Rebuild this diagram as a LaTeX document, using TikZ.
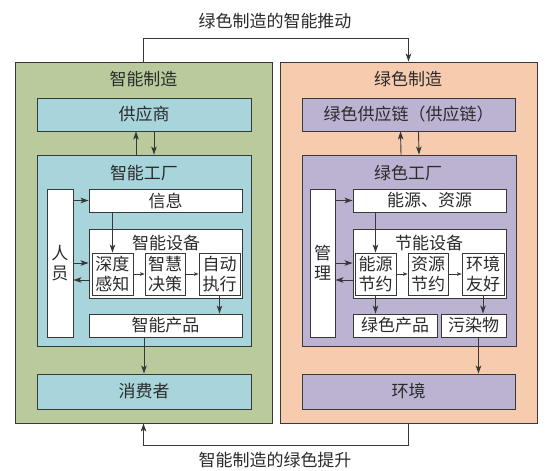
\documentclass[tikz,border=0pt]{standalone}
\usepackage{fontspec}
\setmainfont{Noto Sans CJK SC}
\usetikzlibrary{arrows.meta,calc}
\definecolor{gr}{HTML}{B9CA9C}
\definecolor{sa}{HTML}{F6CBAE}
\definecolor{lb}{HTML}{A8D4DC}
\definecolor{lv}{HTML}{BCB3D3}
\definecolor{bd}{HTML}{383838}
\definecolor{tx}{HTML}{2B2B2B}
\begin{document}
\begin{tikzpicture}[x=1pt,y=-1pt,
 bx/.style={draw=bd,line width=0.9pt,inner sep=0pt,text=tx,font=\fontsize{17}{20}\selectfont,align=center},
 wh/.style 2 args={minimum width=#1,minimum height=#2},
 lbl/.style={text=tx,font=\fontsize{17}{20}\selectfont,inner sep=0pt},
 arr/.style={draw=bd,line width=0.9pt,-{Stealth[length=8pt,width=5.5pt,inset=2pt]}},
 sarr/.style={draw=bd,line width=0.7pt,-{Stealth[length=4.5pt,width=3.5pt,inset=1pt]}}]
\useasboundingbox (0,0) rectangle (550,471);
\fill[white] (0,0) rectangle (550,471);
% ---------- left: smart manufacturing
\node[bx,fill=gr,wh={257pt}{361pt}] (outL) at (143.5,242.5) {};
\node[lbl] (tL) at (143.5,79) {智能制造};
\node[bx,fill=lb,wh={214pt}{33pt}] (supL) at (144,114.5) {供应商};
\node[bx,fill=lb,wh={214pt}{191pt}] (facL) at (144,250.5) {};
\node[lbl] (tfL) at (144,173) {智能工厂};
\node[bx,fill=white,wh={26pt}{148pt}] (ry) at (60,263) {人\\员};
\node[bx,fill=white,wh={153pt}{23pt}] (xx) at (165.5,200.5) {信息};
\node[bx,fill=white,wh={153pt}{69pt}] (sb) at (165.5,263.5) {};
\node[lbl] (tsb) at (166,243) {智能设备};
\node[bx,fill=white,wh={41pt}{42pt}] (sd) at (112.5,274) {深度\\感知};
\node[bx,fill=white,wh={40pt}{42pt}] (zh) at (165,274) {智慧\\决策};
\node[bx,fill=white,wh={41pt}{42pt}] (zd) at (219.5,274) {自动\\执行};
\node[bx,fill=white,wh={153pt}{23pt}] (cp) at (165.5,325.5) {智能产品};
\node[bx,fill=lb,wh={214pt}{35pt}] (xf) at (144,391.5) {消费者};
% ---------- right: green manufacturing
\node[bx,fill=sa,wh={257pt}{361pt}] (outR) at (408.5,242.5) {};
\node[lbl] (tR) at (408,79) {绿色制造};
\node[bx,fill=lv,wh={213pt}{33pt}] (supR) at (408.5,114.5) {绿色供应链（供应链）};
\node[bx,fill=lv,wh={214pt}{191pt}] (facR) at (409,250.5) {};
\node[lbl] (tfR) at (408,173) {绿色工厂};
\node[bx,fill=white,wh={25pt}{148pt}] (gl) at (322.5,263) {管\\理};
\node[bx,fill=white,wh={153pt}{23pt}] (ny) at (429.5,200.5) {能源、资源};
\node[bx,fill=white,wh={153pt}{69pt}] (jn) at (429.5,263.5) {};
\node[lbl] (tjn) at (429,243) {节能设备};
\node[bx,fill=white,wh={41pt}{42pt}] (nj) at (375.5,274) {能源\\节约};
\node[bx,fill=white,wh={40pt}{42pt}] (zj) at (428,274) {资源\\节约};
\node[bx,fill=white,wh={42pt}{42pt}] (hy) at (483,274) {环境\\友好};
\node[bx,fill=white,wh={84pt}{23pt}] (lp) at (395,325.5) {绿色产品};
\node[bx,fill=white,wh={65pt}{23pt}] (wr) at (473.5,325.5) {污染物};
\node[bx,fill=lv,wh={213pt}{35pt}] (hj) at (408.5,391.5) {环境};
% ---------- outer labels
\node[lbl] (top) at (275,21) {绿色制造的智能推动};
\node[lbl] (bot) at (275,460) {智能制造的绿色提升};
% ---------- connectors left
\draw[arr] ($(facL.north)+(-8,0)$) -- ($(supL.south)+(-8,0)$);
\draw[arr] ($(supL.south)+(10,0)$) -- ($(facL.north)+(10,0)$);
\draw[arr] (ry.east|-xx.west) -- (xx.west);
\draw[arr] ($(ry.east|-sd.west)+(0,-11)$) -- ($(sb.west|-sd.west)+(0,-11)$);
\draw[arr] ($(sb.west|-sd.west)+(0,6)$) -- ($(ry.east|-sd.west)+(0,6)$);
\draw[arr] (xx.south-|sd.north) -- (sd.north);
\draw[sarr] (sd.east) -- (zh.west);
\draw[sarr] (zh.east) -- (zd.west);
\draw[arr] (zd.south) -- (cp.north-|zd.south);
\draw[arr] (cp.south-|xf.north) -- (xf.north);
% ---------- connectors right
\draw[arr] ($(facR.north)+(-8,0)$) -- ($(supR.south)+(-8,0)$);
\draw[arr] ($(supR.south)+(10,0)$) -- ($(facR.north)+(10,0)$);
\draw[arr] (gl.east|-ny.west) -- (ny.west);
\draw[arr] ($(gl.east|-nj.west)+(0,-11)$) -- ($(jn.west|-nj.west)+(0,-11)$);
\draw[arr] ($(jn.west|-nj.west)+(0,6)$) -- ($(gl.east|-nj.west)+(0,6)$);
\draw[arr] (ny.south-|nj.north) -- (nj.north);
\draw[sarr] (nj.east) -- (zj.west);
\draw[sarr] (zj.east) -- (hy.west);
\draw[arr] (nj.south) -- (lp.north-|nj.south);
\draw[arr] (hy.south) -- (wr.north-|hy.south);
\draw[arr] ($(wr.south)+(5,0)$) -- ($(hj.north-|wr.south)+(5,0)$);
% ---------- outer loop
\draw[arr] (outL.north) -- ++(0,-23) -| (outR.north);
\draw[arr] (outR.south) -- ++(0,22) -| (outL.south);
\end{tikzpicture}
\end{document}
